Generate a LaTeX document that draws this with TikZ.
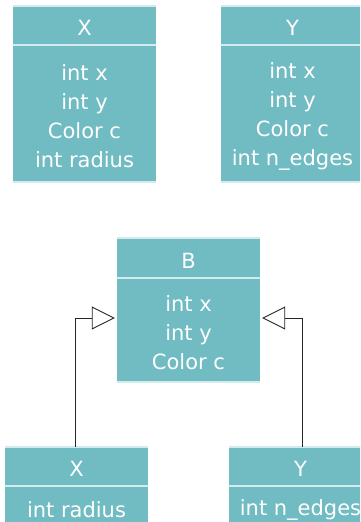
\documentclass[tikz,border=0pt]{standalone}
\usepackage{fontspec}
\setmainfont{DejaVu Sans}
\usetikzlibrary{arrows.meta}
\definecolor{tealfill}{HTML}{70BCC2}
\definecolor{tealline}{HTML}{D2ECEE}
\newcommand{\cfont}{\fontsize{21}{29}\selectfont}
\tikzset{
  hdr/.style={fill=tealfill, text=white, minimum width=143pt, minimum height=39pt,
    inner sep=0pt, font=\cfont, text height=20pt, text depth=0pt},
  bodybox/.style={fill=tealfill, minimum width=143pt, inner sep=0pt},
  bodytext/.style={text=white, align=center, inner sep=0pt, font=\cfont},
  sep/.style={draw=tealline, line width=1.5pt},
  inherit/.style={draw=black!85, line width=0.9pt,
    -{Triangle[open, length=23pt, width=23pt, line width=0.9pt]}, shorten >=2pt},
}
\begin{document}
\begin{tikzpicture}[x=1pt,y=-1pt]
\useasboundingbox (0,0) rectangle (360,522);
\clip (0,0) rectangle (360,522);
% top X
\node[hdr] (txh) at (84.5,25.5) {X};
\node[bodybox, minimum height=137pt] (txb) at (84.5,113.5) {};
\node[bodytext] (txt) at ([yshift=-2.5pt]txb.center) {int x\\int y\\Color c\\int radius};
% top Y
\node[hdr] (tyh) at (292.5,25.5) {Y};
\node[bodybox, minimum height=137pt] (tyb) at (292.5,113.5) {};
\node[bodytext] (tyt) at ([yshift=-2.5pt]tyb.center) {int x\\int y\\Color c\\int n\_edges};
% B
\node[hdr, minimum height=40pt] (bh) at (188.5,258) {B};
\node[bodybox, minimum height=104pt] (bb) at (188.5,330) {};
\node[bodytext] (bt) at ([yshift=-3pt]bb.center) {int x\\int y\\Color c};
% bottom X
\node[hdr] (bxh) at (76.5,466.5) {X};
\node[bodybox, minimum height=44pt] (bxb) at (76.5,508) {};
\node[bodytext] (bxt) at ([yshift=-1.5pt]bxb.center) {int radius};
% bottom Y
\node[hdr] (byh) at (300.5,466.5) {Y};
\node[bodybox, minimum height=44pt] (byb) at (300.5,508) {};
\node[bodytext] (byt) at ([yshift=-1.5pt]byb.center) {int n\_edges};
% light separator lines
\foreach \h/\b in {txh/txb, tyh/tyb, bh/bb, bxh/bxb, byh/byb}{
  \draw[sep] (\h.north west) -- (\h.north east);
  \draw[sep] (\h.south west) -- (\h.south east);
  \draw[sep] (\b.south west) -- (\b.south east);
}
% inheritance connectors
\draw[inherit] ([xshift=-0.8pt]bxh.north) |- ([yshift=12pt]bb.west);
\draw[inherit] ([xshift=1.5pt]byh.north) |- ([yshift=12pt]bb.east);
\end{tikzpicture}
\end{document}
